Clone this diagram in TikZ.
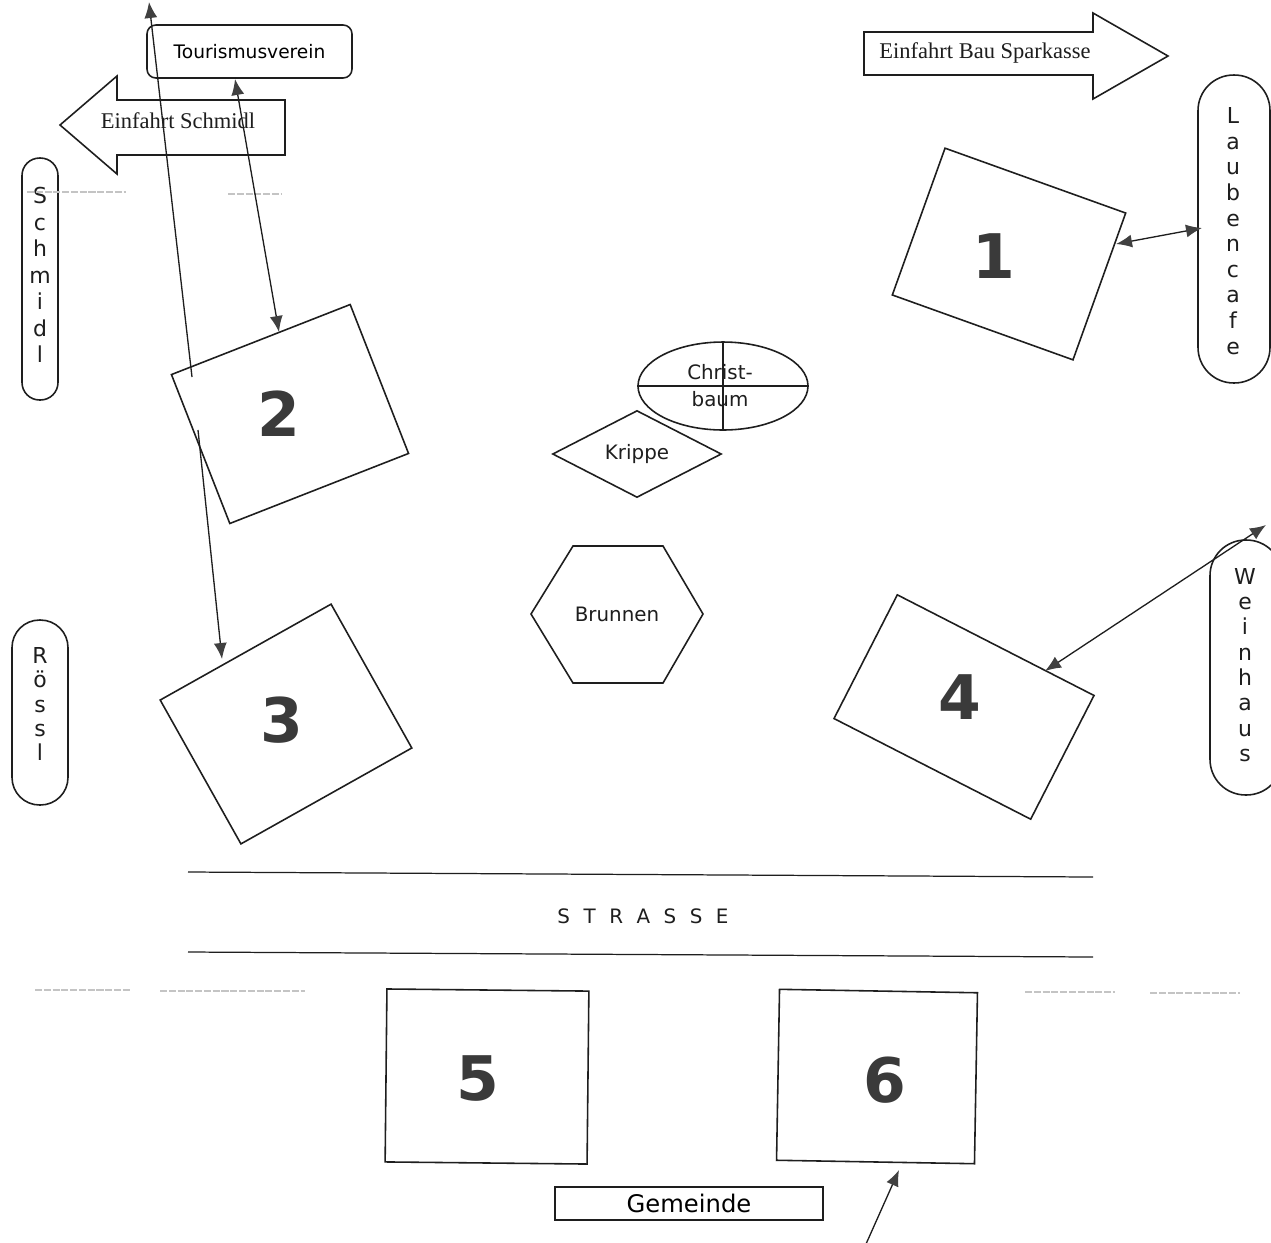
\documentclass[tikz,border=0pt]{standalone}
\usepackage{fontspec}
\setmainfont{DejaVu Sans}
\newfontfamily\timesfam{Liberation Serif}
\usetikzlibrary{shapes.geometric,arrows.meta,calc}
\definecolor{ink}{HTML}{1E1E1E}
\definecolor{tipgray}{HTML}{404040}
\definecolor{digitgray}{HTML}{3A3A3A}
\definecolor{faintgray}{HTML}{C4C4C4}
\newcommand\strgap{\hspace{7.7pt}}
\tikzset{
  outline/.style={draw=ink, line width=0.9pt},
  standbox/.style={outline, inner sep=0pt, rectangle},
  digitlabel/.style={font=\fontsize{35}{35}\selectfont\bfseries, text=digitgray, inner sep=0pt},
  pill/.style={outline, inner sep=0pt, align=center, rectangle},
  sanslabel/.style={font=\fontsize{11.3}{15.3}\selectfont, text=ink, inner sep=0pt, align=center},
  seriflabel/.style={font=\timesfam\fontsize{12.8}{14}\selectfont, text=ink, inner sep=0pt},
  conn/.style={draw=ink, line width=0.75pt, -{Latex[length=3.2mm,width=2.6mm,color=tipgray]}},
  conntwo/.style={draw=ink, line width=0.75pt, {Latex[length=3.2mm,width=2.6mm,color=tipgray]}-{Latex[length=3.2mm,width=2.6mm,color=tipgray]}},
  faint/.style={draw=faintgray, line width=0.6pt, dash pattern=on 4pt off 1pt}
}
\begin{document}
\begin{tikzpicture}[x=0.02cm, y=-0.02cm]
\useasboundingbox[fill=white] (0,0) rectangle (1271,1242);

% --- Tourismusverein ---
\node[standbox, rounded corners=5pt, minimum width=4.1cm, minimum height=1.06cm,
      font=\fontsize{10.6}{12}\selectfont] (tv) at (249.5,51.5) {Tourismusverein};

% --- Einfahrt arrows ---
\draw[outline, fill=white] (60,125) -- (117,76) -- (117,100) -- (285,100) -- (285,155)
   -- (117,155) -- (117,174) -- cycle;
\node[seriflabel] (es) at (178,121) {Einfahrt Schmidl};

\draw[outline] (864,32) -- (1093,32) -- (1093,13) -- (1168,56) -- (1093,99) -- (1093,75)
   -- (864,75) -- cycle;
\node[seriflabel] (ebs) at (985,53) {Einfahrt Bau Sparkasse};

% --- side pills ---
\node[pill, rounded corners=0.35cm, minimum width=0.72cm, minimum height=4.84cm] (schmidl) at (40,279) {};
\node[sanslabel, font=\fontsize{12.5}{15.1}\selectfont] (schmidlt) at (40,275) {S\\c\\h\\m\\i\\d\\l};

\node[pill, rounded corners=0.55cm, minimum width=1.12cm, minimum height=3.7cm] (roessl) at (40,712.5) {};
\node[sanslabel, font=\fontsize{12.5}{13.9}\selectfont] (roesslt) at (40,704) {R\\ö\\s\\s\\l};

\node[pill, rounded corners=0.71cm, minimum width=1.44cm, minimum height=6.16cm] (lc) at (1234,229) {};
\node[sanslabel, font=\fontsize{12.5}{14.6}\selectfont] (lct) at (1233,231) {L\\a\\u\\b\\e\\n\\c\\a\\f\\e};

\node[pill, rounded corners=0.71cm, minimum width=1.44cm, minimum height=5.1cm] (wh) at (1246,667.5) {};
\node[sanslabel, font=\fontsize{12.5}{14.4}\selectfont] (wht) at (1245,665) {W\\e\\i\\n\\h\\a\\u\\s};

% --- faint scan lines ---
\draw[faint] (27,192) -- (126,192);
\draw[faint] (228,194) -- (281,194);
\draw[faint] (35,990) -- (131,990);
\draw[faint] (160,991) -- (305,991);
\draw[faint] (1025,992) -- (1115,992);
\draw[faint] (1150,993) -- (1240,993);

% --- stands ---
\node[standbox, minimum width=3.84cm, minimum height=3.12cm, rotate=-19.75] (b1) at (1009,254) {};
\node[digitlabel] (d1) at (994,256) {1};

\node[standbox, minimum width=3.84cm, minimum height=3.2cm, rotate=21.4] (b2) at (290,414) {};
\node[digitlabel] (d2) at (279,414) {2};

\node[standbox, minimum width=3.92cm, minimum height=3.3cm, rotate=29.3] (b3) at (286,724) {};
\node[digitlabel] (d3) at (282,720) {3};

\node[standbox, minimum width=4.42cm, minimum height=2.78cm, rotate=-27.1] (b4) at (964,707) {};
\node[digitlabel] (d4) at (960,697) {4};

\node[standbox, minimum width=4.04cm, minimum height=3.46cm, rotate=-0.6] (b5) at (487,1076.5) {};
\node[digitlabel] (d5) at (478,1078) {5};

\node[standbox, minimum width=3.96cm, minimum height=3.42cm, rotate=-1.0] (b6) at (877,1076.5) {};
\node[digitlabel] (d6) at (885,1080) {6};

% --- centre features ---
\node[ellipse, outline, inner sep=0pt, minimum width=3.4cm, minimum height=1.76cm] (cb) at (723,386) {};
\draw[outline] (cb.west) -- (cb.east);
\draw[outline] (cb.north) -- (cb.south);
\node[sanslabel] (cbt) at (720,386) {Christ-\\baum};

\node[diamond, outline, inner sep=0pt, minimum width=3.38cm, minimum height=1.74cm,
      sanslabel, draw=ink] (kr) at (637,454) {Krippe};

\node[sanslabel] (br) at (617,614) {Brunnen};
\draw[outline] ($(br)+(-44,-68)$) -- ($(br)+(46,-68)$) -- ($(br)+(86,0)$) -- ($(br)+(46,69)$)
   -- ($(br)+(-44,69)$) -- ($(br)+(-86,0)$) -- cycle;

% --- Strasse ---
\draw[draw=ink, line width=0.7pt] (188,872) -- (1093,877);
\draw[draw=ink, line width=0.7pt] (188,952) -- (1093,957);
\node[font=\fontsize{11.3}{13}\selectfont, text=ink] (str) at (643,916)
   {S\strgap T\strgap R\strgap A\strgap S\strgap S\strgap E};

% --- Gemeinde ---
\node[standbox, minimum width=5.36cm, minimum height=0.66cm, line width=0.8pt,
      font=\fontsize{13.8}{15}\selectfont] (gem) at (689,1203.5) {Gemeinde};

% --- connectors ---
\coordinate (pb2a) at (192,377);
\coordinate (ptop) at (149,2);
\draw[conn] (pb2a) -- (ptop);

\coordinate (tvb) at (235,79);
\coordinate (b2top) at (279,332);
\draw[conntwo] (tvb) -- (b2top);

\coordinate (pb2b) at (198,430);
\coordinate (b3top) at (222,659);
\draw[conn] (pb2b) -- (b3top);

\coordinate (b1r) at (1116,244);
\coordinate (lcl) at (1202,228);
\draw[conntwo] (b1r) -- (lcl);

\coordinate (b4e) at (1045,671);
\coordinate (whne) at (1266,525);
\draw[conntwo] (b4e) -- (whne);

\coordinate (pbot) at (866,1244);
\coordinate (b6b) at (899,1170);
\draw[conn] (pbot) -- (b6b);
\end{tikzpicture}
\end{document}
